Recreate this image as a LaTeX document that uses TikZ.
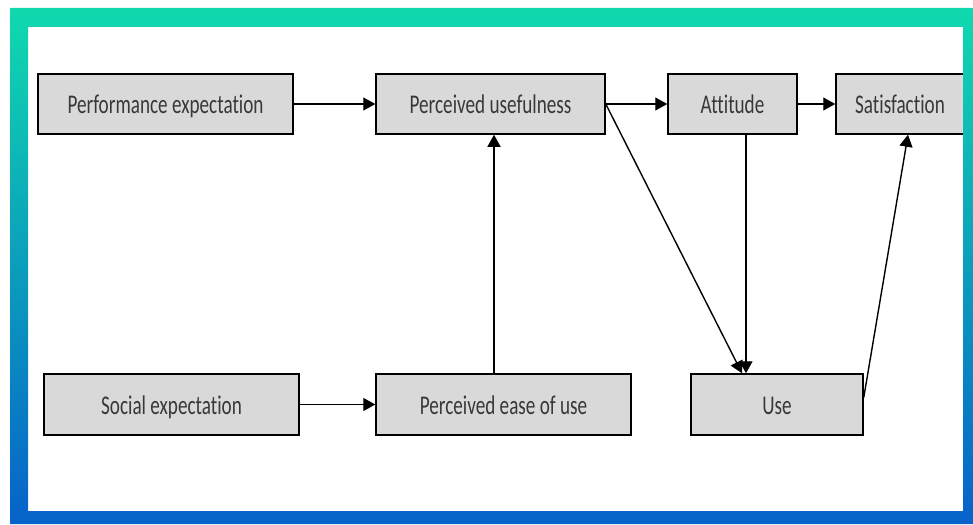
\documentclass[tikz,border=0pt]{standalone}
\usepackage{fontspec}
\setmainfont{Carlito}[FakeStretch=0.71, Ligatures=NoCommon]
\usetikzlibrary{arrows.meta,calc}
\definecolor{frametop}{HTML}{10D9AE}
\definecolor{framemid}{HTML}{25C6E4}
\definecolor{framebot}{HTML}{0762CA}
\definecolor{boxfill}{HTML}{D9D9D9}
\definecolor{boxtext}{HTML}{383838}

\begin{document}
\begin{tikzpicture}[x=1pt, y=-1pt,
    nodes = {font=\fontsize{27}{29}\selectfont, text=boxtext},
    box/.style = {draw=black, line width=1.5pt, fill=boxfill, inner sep=0pt,
      minimum height=60pt, text height=19pt, text depth=0pt},
    arr/.style = {line width=1.4pt, -{Triangle[length=12pt,width=13pt]}}]
  \useasboundingbox (0,0) rectangle (973,524);
  % boxes of the model
  \node[box, minimum width=255pt] (perf)   at (165.5,104) {Performance expectation};
  \node[box, minimum width=229pt] (useful) at (490.5,104) {Perceived usefulness};
  \node[box, minimum width=129pt] (att)    at (732.5,104) {Attitude};
  \node[box, minimum width=128pt] (sat)    at (900,104)   {Satisfaction};
  \node[box, minimum width=255pt, minimum height=61pt] (social) at (171.5,404.5) {Social expectation};
  \node[box, minimum width=255pt, minimum height=61pt] (ease)   at (503.5,404.5) {Perceived ease of use};
  \node[box, minimum width=172pt, minimum height=61pt] (use)    at (777,404.5)   {Use};
  % links
  \draw[arr] (perf) -- (useful);
  \draw[arr] (useful) -- (att);
  \draw[arr] (att) -- (sat);
  \draw[arr] (social) -- (ease);
  \draw[arr] ([xshift=-9.5pt]ease.north) -- ([xshift=-9.5pt]ease.north |- useful.south);
  \draw[arr] ([xshift=13.5pt]att.south) -- ([xshift=13.5pt]att.south |- use.north);
  \draw[arr] (useful.east) -- ([xshift=-35pt]use.north);
  \draw[arr] ([yshift=7pt]use.east) -- ([xshift=8pt]sat.south);
  % frame round the picture
  \shade[top color=frametop, middle color=framemid, bottom color=framebot, even odd rule]
    (10,8) rectangle (973,524) (28,27) rectangle (963,511);
\end{tikzpicture}
\end{document}
